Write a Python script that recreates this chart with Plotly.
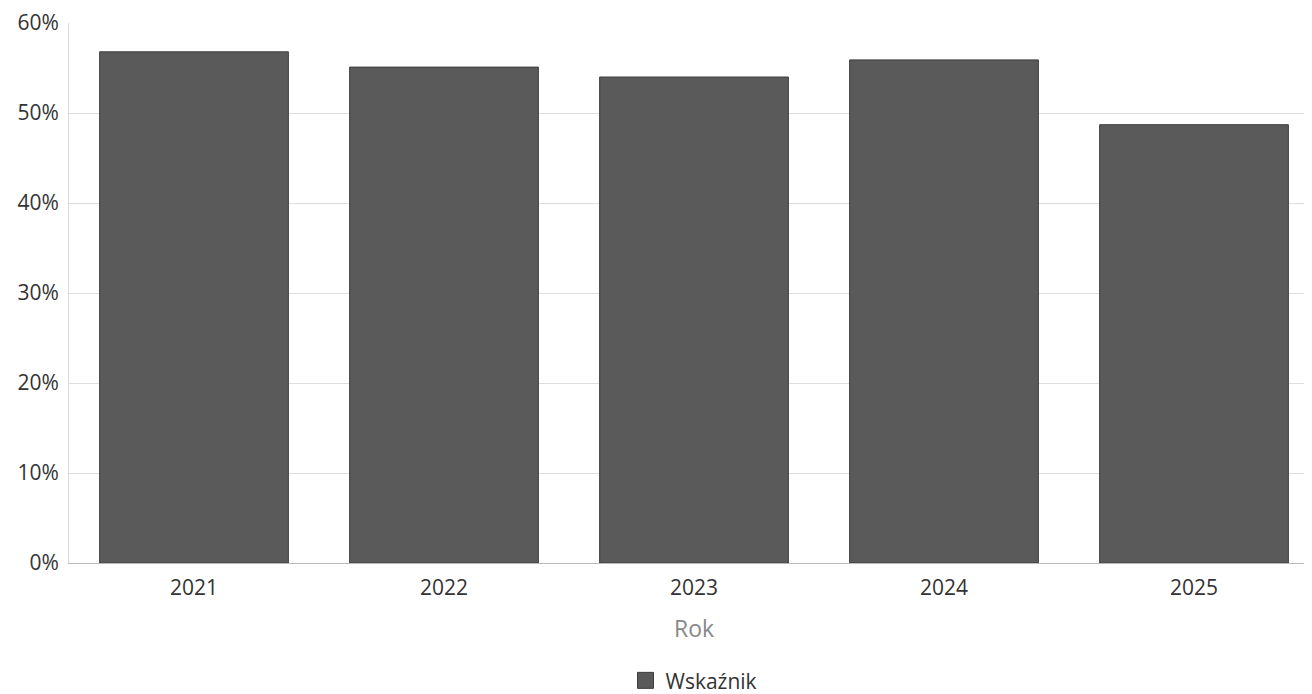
import plotly.graph_objects as go

years = ["2021", "2022", "2023", "2024", "2025"]
values = [56.8, 55.1, 54.0, 55.9, 48.7]
series_name = "Wskaźnik"
y_ticks = [0, 10, 20, 30, 40, 50, 60]
y_tick_labels = ["0%", "10%", "20%", "30%", "40%", "50%", "60%"]

bar_color = "#5a5a5a"

fig = go.Figure()
fig.add_trace(go.Bar(
    x=years, y=values, name=series_name,
    marker=dict(color=bar_color, line=dict(color="#3e3e3e", width=1)),
    showlegend=False, legendgroup="s",
))
# legend entry with a larger square swatch
fig.add_trace(go.Scatter(
    x=[None], y=[None], mode="markers", name=series_name, legendgroup="s",
    marker=dict(symbol="square", size=19, color=bar_color, line=dict(color="#3e3e3e", width=1)),
    showlegend=True, hoverinfo="skip",
))

fig.update_layout(
    width=1312, height=694,
    margin=dict(l=61, r=1, t=15, b=130),
    paper_bgcolor="white", plot_bgcolor="white",
    font=dict(family="Open Sans, Noto Sans, sans-serif", color="#333333", size=21),
    bargap=0.245,
    showlegend=True,
    legend=dict(orientation="h", x=0.5, xanchor="center", y=-0.218, yanchor="middle",
                font=dict(size=21, color="#333333"), itemwidth=30),
    xaxis=dict(
        title=dict(text="Rok", font=dict(size=23, color="#888888"), standoff=20),
        showline=True, linecolor="#bbbbbb", linewidth=1,
        ticks="", tickfont=dict(size=21, color="#333333"),
        ticklabelstandoff=6,
        showgrid=False,
    ),
    yaxis=dict(
        range=[0, 60], tickvals=y_ticks, ticktext=y_tick_labels,
        showgrid=True, gridcolor="#dedede", gridwidth=1,
        showline=True, linecolor="#d8d8d8", linewidth=1,
        zeroline=False,
        tickfont=dict(size=21, color="#333333"),
        ticks="", ticklabelstandoff=5,
        ticklabeloverflow="allow",
    ),
)

fig.write_html("out.html")
